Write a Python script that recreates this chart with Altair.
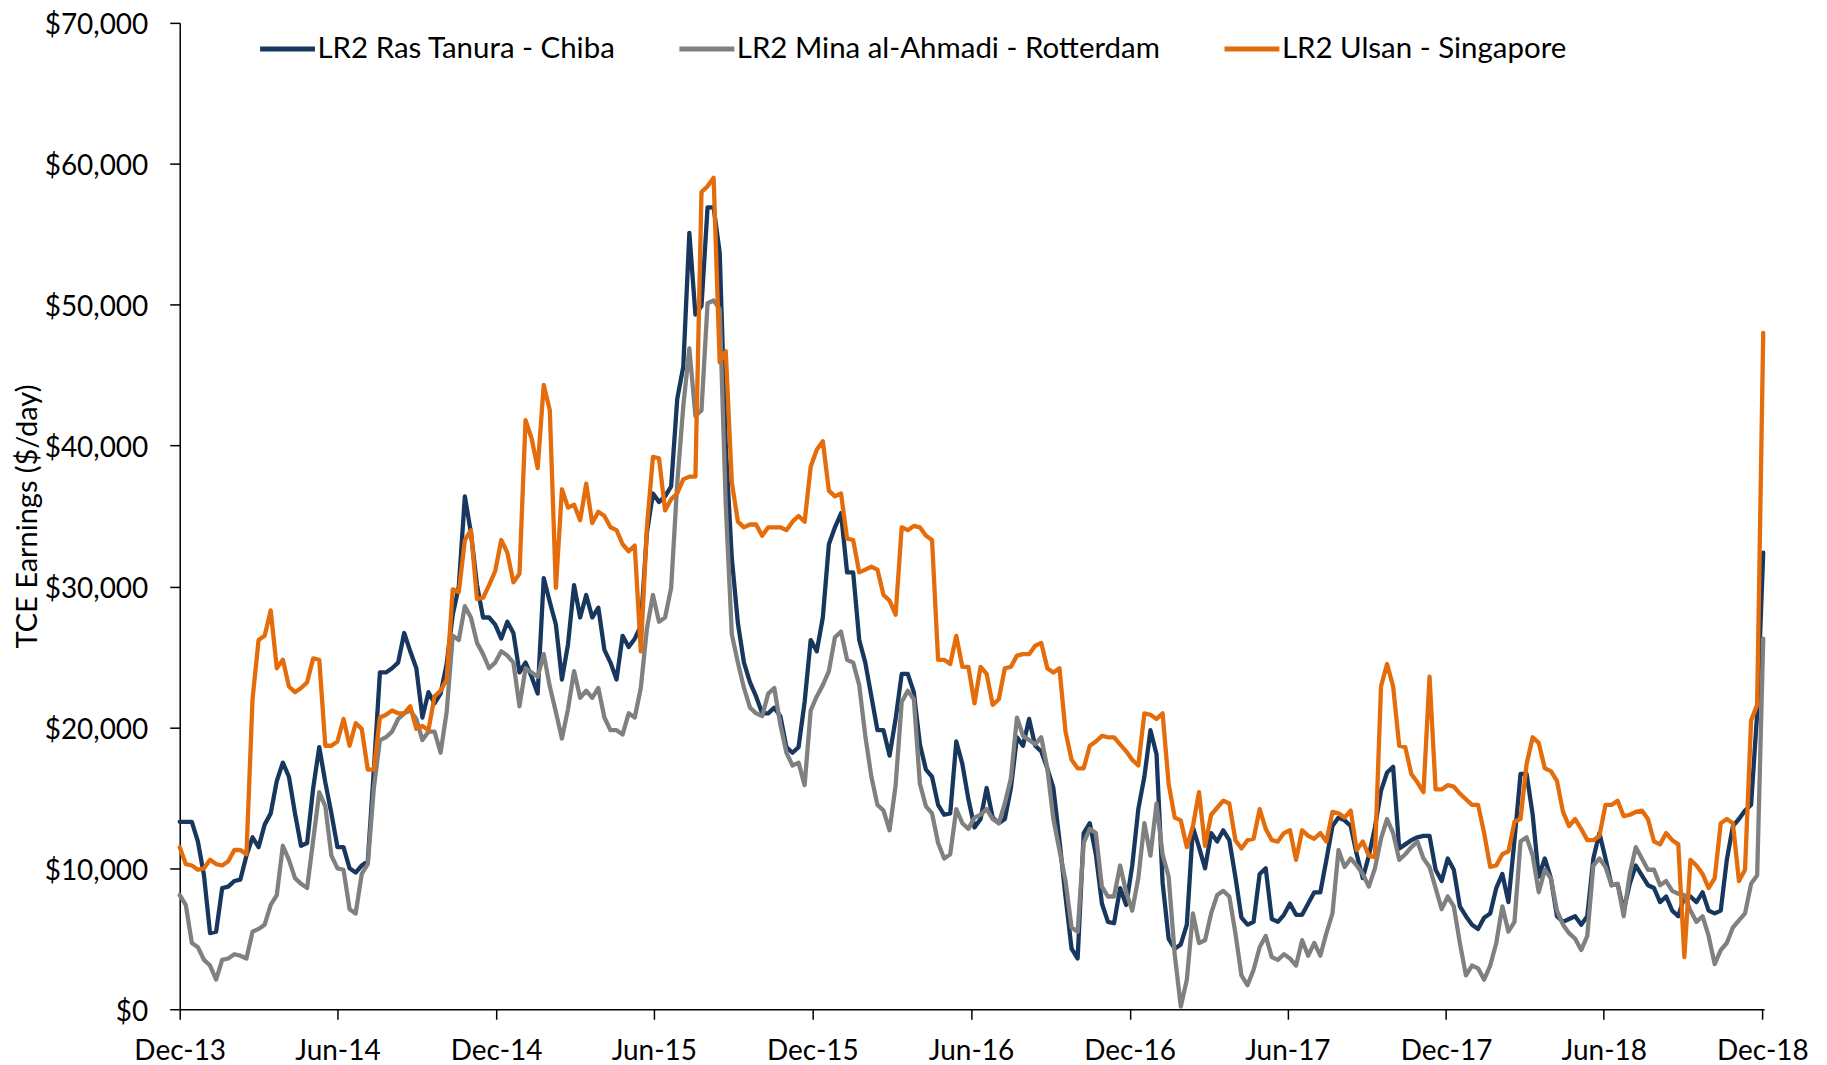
import altair as alt
import pandas as pd

# Weekly TCE earnings, $ thousand per day, Dec-2013 .. Dec-2018
ras_tanura_chiba = [
    13.3, 13.3, 13.3, 11.9, 9.5, 5.4, 5.5, 8.6, 8.7, 9.1,
    9.2, 10.9, 12.2, 11.5, 13.1, 13.9, 16.2, 17.5, 16.5, 13.9,
    11.6, 11.8, 15.7, 18.6, 16.1, 13.9, 11.5, 11.5, 10.0, 9.7,
    10.2, 10.5, 17.0, 23.9, 23.9, 24.2, 24.6, 26.7, 25.4, 24.2,
    20.7, 22.5, 21.7, 22.4, 24.5, 28.0, 30.0, 36.4, 33.8, 30.1,
    27.8, 27.8, 27.3, 26.3, 27.5, 26.7, 23.9, 24.6, 23.6, 22.4,
    30.6, 28.9, 27.3, 23.4, 25.9, 30.1, 27.8, 29.4, 27.8, 28.5,
    25.5, 24.6, 23.4, 26.5, 25.7, 26.3, 27.2, 33.8, 36.6, 36.0,
    36.4, 37.1, 43.3, 45.6, 55.1, 49.3, 49.9, 56.9, 56.9, 53.7,
    40.0, 32.0, 27.4, 24.6, 23.2, 22.2, 21.0, 21.0, 21.4, 20.8,
    18.6, 18.2, 18.6, 21.8, 26.2, 25.4, 27.8, 33.0, 34.2, 35.2,
    31.0, 31.0, 26.2, 24.6, 22.2, 19.8, 19.8, 18.0, 20.6, 23.8,
    23.8, 22.5, 18.8, 17.0, 16.5, 14.5, 13.8, 13.9, 19.0, 17.4,
    14.9, 12.9, 13.5, 15.7, 13.6, 13.2, 13.5, 15.7, 19.3, 18.7,
    20.6, 18.7, 18.3, 17.1, 15.7, 12.0, 8.0, 4.3, 3.6, 12.5,
    13.2, 11.0, 7.5, 6.2, 6.1, 8.6, 7.4, 10.2, 14.2, 16.5,
    19.8, 18.1, 9.0, 5.0, 4.3, 4.6, 6.0, 12.9, 11.5, 10.0,
    12.5, 11.9, 12.7, 12.0, 9.4, 6.5, 6.0, 6.2, 9.6, 10.0,
    6.4, 6.2, 6.7, 7.5, 6.7, 6.7, 7.5, 8.3, 8.3, 10.6,
    13.0, 13.6, 13.4, 13.0, 11.0, 9.3, 10.9, 12.9, 15.5, 16.8,
    17.2, 11.4, 11.7, 12.0, 12.2, 12.3, 12.3, 9.9, 9.1, 10.7,
    9.9, 7.3, 6.6, 6.0, 5.7, 6.5, 6.8, 8.6, 9.6, 7.6,
    12.0, 16.7, 16.7, 13.8, 9.4, 10.7, 9.3, 6.6, 6.2, 6.4,
    6.6, 6.0, 6.6, 10.7, 12.5, 10.7, 8.8, 8.9, 7.0, 8.9,
    10.2, 9.5, 8.8, 8.6, 7.6, 8.0, 7.0, 6.6, 8.0, 8.0,
    7.6, 8.3, 7.0, 6.8, 7.0, 10.6, 13.0, 13.5, 14.1, 14.5,
    21.0, 32.4,
]

mina_rotterdam = [
    8.1, 7.4, 4.7, 4.4, 3.5, 3.1, 2.1, 3.5, 3.6, 3.9,
    3.8, 3.6, 5.5, 5.7, 6.0, 7.4, 8.1, 11.6, 10.6, 9.3,
    8.9, 8.6, 12.0, 15.4, 14.4, 10.9, 10.0, 9.9, 7.1, 6.8,
    9.6, 10.3, 15.7, 19.1, 19.3, 19.7, 20.6, 21.0, 21.2, 20.6,
    19.1, 19.7, 19.7, 18.2, 21.1, 26.5, 26.2, 28.6, 27.8, 26.0,
    25.2, 24.2, 24.6, 25.4, 25.1, 24.6, 21.5, 24.2, 23.9, 23.6,
    25.2, 22.9, 21.1, 19.2, 21.3, 24.0, 22.1, 22.6, 22.1, 22.8,
    20.7, 19.8, 19.8, 19.5, 21.0, 20.7, 22.8, 27.0, 29.4, 27.5,
    27.8, 29.9, 37.3, 42.8, 46.9, 42.1, 42.5, 50.1, 50.3, 49.7,
    35.8, 26.6, 24.6, 22.8, 21.4, 21.0, 20.8, 22.4, 22.8, 20.2,
    18.2, 17.3, 17.5, 15.9, 21.2, 22.2, 23.0, 24.0, 26.4, 26.8,
    24.8, 24.6, 23.0, 19.4, 16.5, 14.5, 14.1, 12.7, 15.9, 21.8,
    22.6, 22.0, 16.0, 14.4, 13.9, 11.8, 10.7, 11.0, 14.2, 13.2,
    12.8, 13.6, 13.8, 14.2, 13.5, 13.2, 14.6, 16.4, 20.7, 19.4,
    19.1, 18.8, 19.3, 17.1, 13.5, 11.3, 9.1, 5.8, 5.5, 11.8,
    12.8, 12.5, 8.7, 8.0, 8.0, 10.2, 8.3, 7.0, 9.3, 13.2,
    10.9, 14.6, 11.0, 9.4, 3.9, 0.2, 2.1, 6.8, 4.7, 4.9,
    6.8, 8.1, 8.4, 8.0, 5.4, 2.4, 1.7, 2.8, 4.4, 5.2,
    3.7, 3.5, 3.9, 3.6, 3.1, 4.9, 3.8, 4.7, 3.8, 5.4,
    6.8, 11.3, 10.1, 10.7, 10.2, 9.6, 8.7, 10.0, 12.1, 13.5,
    12.5, 10.6, 11.0, 11.5, 11.9, 10.7, 10.1, 8.6, 7.1, 8.0,
    7.3, 4.7, 2.4, 3.1, 2.9, 2.1, 3.1, 4.7, 7.3, 5.5,
    6.2, 11.9, 12.2, 10.9, 8.3, 9.9, 9.3, 7.0, 6.0, 5.4,
    5.0, 4.2, 5.2, 10.2, 10.7, 10.1, 8.8, 8.9, 6.6, 9.6,
    11.5, 10.7, 9.9, 9.9, 8.8, 9.1, 8.4, 8.2, 8.1, 7.0,
    6.2, 6.6, 5.2, 3.2, 4.2, 4.7, 5.8, 6.3, 6.8, 8.9,
    9.5, 26.3,
]

ulsan_singapore = [
    11.5, 10.3, 10.2, 9.9, 10.0, 10.6, 10.3, 10.2, 10.5, 11.3,
    11.3, 11.0, 22.0, 26.2, 26.5, 28.3, 24.2, 24.8, 22.9, 22.5,
    22.8, 23.2, 24.9, 24.8, 18.7, 18.7, 19.0, 20.6, 18.7, 20.3,
    19.9, 17.0, 17.0, 20.7, 20.9, 21.2, 21.0, 21.0, 21.5, 19.9,
    20.1, 19.8, 22.2, 22.6, 23.4, 29.8, 29.6, 33.3, 34.0, 29.1,
    29.2, 30.1, 31.1, 33.3, 32.4, 30.3, 30.9, 41.8, 40.5, 38.4,
    44.3, 42.5, 29.9, 36.9, 35.6, 35.8, 34.7, 37.3, 34.5, 35.3,
    35.0, 34.2, 34.0, 33.0, 32.5, 32.9, 25.4, 34.2, 39.2, 39.1,
    35.4, 36.2, 36.6, 37.6, 37.8, 37.8, 58.0, 58.4, 59.0, 45.9,
    46.7, 37.4, 34.6, 34.2, 34.4, 34.4, 33.6, 34.2, 34.2, 34.2,
    34.0, 34.6, 35.0, 34.6, 38.5, 39.7, 40.3, 36.8, 36.4, 36.6,
    33.4, 33.3, 31.0, 31.2, 31.4, 31.2, 29.4, 29.0, 28.0, 34.2,
    34.0, 34.3, 34.2, 33.6, 33.3, 24.8, 24.8, 24.5, 26.5, 24.3,
    24.3, 21.7, 24.3, 23.8, 21.6, 22.0, 24.2, 24.3, 25.1, 25.2,
    25.2, 25.8, 26.0, 24.2, 23.9, 24.2, 19.7, 17.7, 17.1, 17.1,
    18.7, 19.0, 19.4, 19.3, 19.3, 18.8, 18.3, 17.7, 17.3, 21.0,
    20.9, 20.6, 21.0, 16.0, 13.6, 13.4, 11.5, 13.0, 15.4, 11.6,
    13.8, 14.3, 14.8, 14.6, 12.0, 11.4, 12.0, 12.1, 14.2, 12.8,
    12.0, 11.9, 12.5, 12.7, 10.6, 12.7, 12.3, 12.1, 12.5, 11.9,
    14.0, 13.9, 13.6, 14.1, 11.3, 11.9, 10.9, 10.8, 22.9, 24.5,
    22.9, 18.7, 18.6, 16.7, 16.1, 15.4, 23.6, 15.6, 15.6, 15.9,
    15.8, 15.3, 14.9, 14.5, 14.5, 12.5, 10.1, 10.2, 11.0, 11.2,
    13.3, 13.5, 17.4, 19.3, 18.9, 17.1, 16.9, 16.2, 14.0, 13.0,
    13.5, 12.8, 12.0, 12.0, 12.3, 14.5, 14.5, 14.8, 13.7, 13.8,
    14.0, 14.1, 13.5, 11.9, 11.7, 12.5, 12.0, 11.7, 3.7, 10.6,
    10.2, 9.6, 8.6, 9.3, 13.2, 13.5, 13.2, 9.1, 9.9, 20.5,
    21.6, 48.0,
]

series_names = [
    "LR2 Ras Tanura - Chiba",
    "LR2 Mina al-Ahmadi - Rotterdam",
    "LR2 Ulsan - Singapore",
]
series_colors = ["#17375E", "#808080", "#E46C0A"]

tick_labels_years = [(2013, 12), (2014, 6), (2014, 12), (2015, 6), (2015, 12),
                     (2016, 6), (2016, 12), (2017, 6), (2017, 12), (2018, 6), (2018, 12)]

dates = pd.date_range("2013-12-01", periods=len(ras_tanura_chiba), freq="7D")

frames = []
for name, vals in zip(series_names, [ras_tanura_chiba, mina_rotterdam, ulsan_singapore]):
    frames.append(pd.DataFrame({
        "date": dates,
        "series": name,
        "value": [v * 1000 for v in vals],
    }))
df = pd.concat(frames, ignore_index=True)

FONT = "Lato"

x_enc = alt.X(
    "date:T",
    scale=alt.Scale(
        domain=[alt.DateTime(year=2013, month=12, date=1),
                alt.DateTime(year=2018, month=12, date=3)],
        nice=False,
    ),
    axis=alt.Axis(
        title=None,
        values=[alt.DateTime(year=y, month=m, date=1) for y, m in tick_labels_years],
        format="%b-%y",
        labelFlush=False,
        labelOverlap=False,
        tickSize=10,
        labelPadding=18,
    ),
)

y_enc = alt.Y(
    "value:Q",
    scale=alt.Scale(domain=[0, 70000], nice=False),
    axis=alt.Axis(
        title="TCE Earnings ($/day)",
        values=list(range(0, 70001, 10000)),
        format="$,.0f",
        tickSize=10,
        labelPadding=22,
        labelOffset=3,
        titleX=-152,
        titleY=494,
        titleAngle=270,
        titleAlign="center",
        titleBaseline="middle",
    ),
)

color_enc = alt.Color(
    "series:N",
    scale=alt.Scale(domain=series_names, range=series_colors),
    legend=alt.Legend(
        title=None,
        orient="none",
        legendX=78,
        legendY=-4,
        direction="horizontal",
        symbolType="stroke",
        symbolSize=3025,
        symbolStrokeWidth=5,
        labelFont=FONT,
        labelFontSize=29.5,
        labelColor="black",
        labelOffset=0,
        columnPadding=53,
        padding=0,
        labelLimit=1000,
    ),
)

layers = []
for name in series_names:
    layers.append(
        alt.Chart(df)
        .transform_filter(alt.datum.series == name)
        .mark_line(strokeWidth=4.3, strokeJoin="round", strokeCap="round")
        .encode(x=x_enc, y=y_enc, color=color_enc)
    )

chart = (
    alt.layer(*layers)
    .properties(
        width=1587,
        height=988,
        autosize=alt.AutoSizeParams(type="none"),
        padding={"left": 172, "top": 14, "right": 55, "bottom": 70},
    )
    .configure_view(stroke=None)
    .configure_axis(
        grid=False,
        domainColor="black",
        domainWidth=1.5,
        tickColor="black",
        tickWidth=1.5,
        labelFont=FONT,
        labelFontSize=28,
        labelColor="black",
        titleFont=FONT,
        titleFontSize=29,
        titleFontWeight="normal",
        titleColor="black",
    )
)

chart.save("out.html", embed_options={"renderer": "svg", "actions": False})
